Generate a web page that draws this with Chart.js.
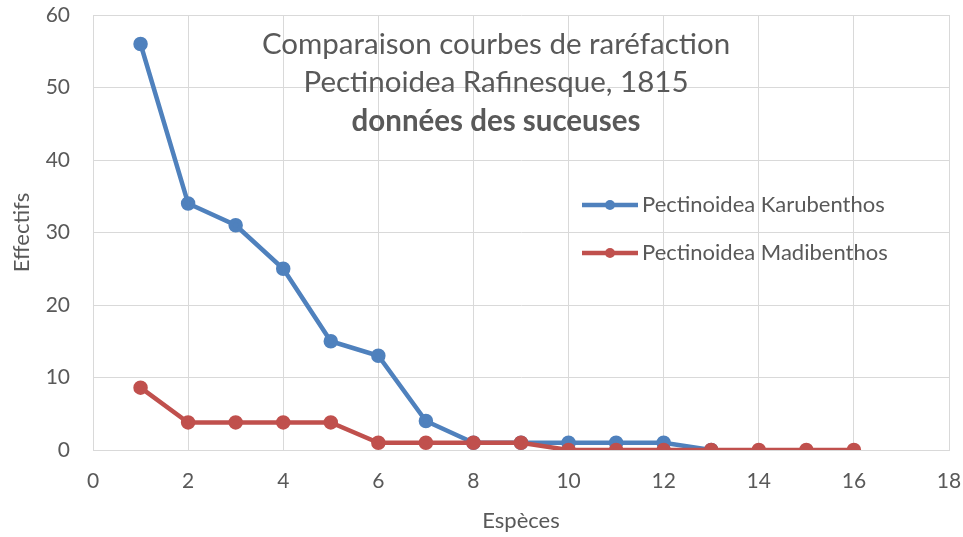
<!DOCTYPE html>
<html>
<head>
<meta charset="utf-8">
<script src="https://cdn.jsdelivr.net/npm/chart.js@4.4.0/dist/chart.umd.min.js"></script>
<style>
  html, body { margin: 0; padding: 0; background: #fff; }
  #wrap { width: 963px; height: 537px; }
</style>
</head>
<body>
<div id="wrap"><canvas id="chart" width="963" height="537"></canvas></div>
<script>
// données
const especes = [1, 2, 3, 4, 5, 6, 7, 8, 9, 10, 11, 12, 13, 14, 15, 16];
const karubenthos = [56, 34, 31, 25, 15, 13, 4, 1, 1, 1, 1, 1, 0];
const madibenthos = [8.6, 3.8, 3.8, 3.8, 3.8, 1, 1, 1, 1, 0, 0, 0, 0, 0, 0, 0];
const xTicks = [0, 2, 4, 6, 8, 10, 12, 14, 16, 18];
const yTicks = [0, 10, 20, 30, 40, 50, 60];
const titre = ['Comparaison courbes de raréfaction', 'Pectinoidea Rafinesque, 1815', 'données des suceuses'];

const FONT = 'Lato, "Open Sans", sans-serif';
const GRIS = '#595959';
const BLEU = '#4F81BD';
const ROUGE = '#C0504D';

function toPoints(values) {
    return values.map((v, i) => ({ x: especes[i], y: v }));
}

// titre dans la zone du graphique
const titrePlugin = {
    id: 'titreInterne',
    afterDraw(chart) {
        const ctx = chart.ctx;
        const cx = 496;
        const ys = [44, 82, 121];
        ctx.save();
        ctx.fillStyle = GRIS;
        ctx.textAlign = 'center';
        ctx.textBaseline = 'middle';
        titre.forEach((t, i) => {
            ctx.font = (i === 2 ? 'bold ' : '') + '29.5px ' + FONT;
            ctx.fillText(t, cx, ys[i]);
        });
        ctx.restore();
    }
};

// légende placée à droite, au milieu
const legendePlugin = {
    id: 'legendeInterne',
    afterDraw(chart) {
        const ctx = chart.ctx;
        const x0 = 582, x1 = 638, xm = 610, xt = 642;
        const ys = [205, 253];
        ctx.save();
        chart.data.datasets.forEach((ds, i) => {
            const y = ys[i];
            ctx.strokeStyle = ds.borderColor;
            ctx.lineWidth = ds.borderWidth;
            ctx.beginPath();
            ctx.moveTo(x0, y);
            ctx.lineTo(x1, y);
            ctx.stroke();
            ctx.fillStyle = ds.pointBackgroundColor;
            ctx.beginPath();
            ctx.arc(xm, y, ds.pointRadius, 0, Math.PI * 2);
            ctx.fill();
            ctx.fillStyle = GRIS;
            ctx.font = '22px ' + FONT;
            ctx.textAlign = 'left';
            ctx.textBaseline = 'middle';
            ctx.fillText(ds.label, xt, y);
        });
        ctx.restore();
    }
};

document.addEventListener('DOMContentLoaded', function() {
    const ctx = document.getElementById('chart');
    new Chart(ctx, {
        type: 'line',
        data: {
            datasets: [{
                label: 'Pectinoidea Karubenthos',
                data: toPoints(karubenthos),
                borderColor: BLEU,
                backgroundColor: BLEU,
                pointBackgroundColor: BLEU,
                pointBorderColor: BLEU,
                borderWidth: 4.5,
                pointRadius: 5,
                order: 1
            }, {
                label: 'Pectinoidea Madibenthos',
                data: toPoints(madibenthos),
                borderColor: ROUGE,
                backgroundColor: ROUGE,
                pointBackgroundColor: ROUGE,
                pointBorderColor: ROUGE,
                borderWidth: 4.5,
                pointRadius: 5,
                order: 0
            }]
        },
        options: {
            responsive: false,
            animation: false,
            layout: {
                padding: { top: 15, right: 14, left: 0, bottom: 0 }
            },
            plugins: {
                legend: { display: false },
                title: { display: false },
                tooltip: { enabled: false }
            },
            scales: {
                x: {
                    type: 'linear',
                    min: 0,
                    max: 18,
                    afterBuildTicks: (scale) => { scale.ticks = xTicks.map(v => ({ value: v })); },
                    afterFit: (scale) => {
                        scale.height = 87;
                        scale.paddingLeft = 0;
                        scale.paddingRight = 0;
                    },
                    grid: { color: '#d9d9d9', drawTicks: false, lineWidth: 1 },
                    border: { color: '#d9d9d9' },
                    ticks: {
                        color: GRIS,
                        font: { family: FONT, size: 21 },
                        padding: 19,
                        maxRotation: 0
                    },
                    title: {
                        display: true,
                        text: 'Espèces',
                        color: GRIS,
                        font: { family: FONT, size: 22 },
                        padding: { top: 0, bottom: 3 }
                    }
                },
                y: {
                    min: 0,
                    max: 60,
                    afterBuildTicks: (scale) => { scale.ticks = yTicks.map(v => ({ value: v })); },
                    afterFit: (scale) => {
                        scale.width = 93;
                        scale.paddingTop = 0;
                        scale.paddingBottom = 0;
                    },
                    grid: { color: '#d9d9d9', drawTicks: false, lineWidth: 1 },
                    border: { color: '#d9d9d9' },
                    ticks: {
                        color: GRIS,
                        font: { family: FONT, size: 21 },
                        padding: 23
                    },
                    title: {
                        display: true,
                        text: 'Effectifs',
                        color: GRIS,
                        font: { family: FONT, size: 22 },
                        padding: { top: 9, bottom: 0 }
                    }
                }
            }
        },
        plugins: [titrePlugin, legendePlugin]
    });
});
</script>
</body>
</html>
